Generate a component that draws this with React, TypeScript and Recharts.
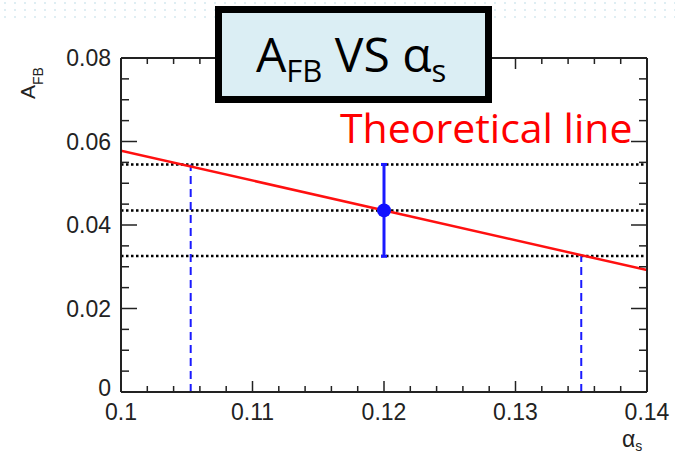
import { ComposedChart, Line, Scatter, ErrorBar, XAxis, YAxis, ReferenceLine } from "recharts";

// alpha_s axis
const xMajorTicks = [0.1, 0.11, 0.12, 0.13, 0.14];
const xMajorLabels = ["0.1", "0.11", "0.12", "0.13", "0.14"];
const xMinorTicks = [
  0.102, 0.104, 0.106, 0.108, 0.112, 0.114, 0.116, 0.118,
  0.122, 0.124, 0.126, 0.128, 0.132, 0.134, 0.136, 0.138,
];

// A_FB axis
const yMajorTicks = [0, 0.02, 0.04, 0.06, 0.08];
const yMajorLabels = ["0", "0.02", "0.04", "0.06", "0.08"];
const yMinorTicks = [0.005, 0.01, 0.015, 0.025, 0.03, 0.035, 0.045, 0.05, 0.055, 0.065, 0.07, 0.075];

// theoretical line end points
const theoryAlpha = [0.1, 0.14];
const theoryAfb = [0.0578, 0.0292];

// measured point
const measAlpha = [0.12];
const measAfb = [0.0435];
const measErr = [0.011];

// dotted levels (upper, central, lower)
const levelAfb = [0.0545, 0.0435, 0.0326];
// where the upper / lower levels cross the line
const crossAlpha = [0.1053, 0.135];
const crossAfb = [0.0545, 0.0326];

const theoryData = theoryAlpha.map((x, i) => ({ x, y: theoryAfb[i] }));
const measData = measAlpha.map((x, i) => ({ x, y: measAfb[i], err: measErr[i] }));

const xTicks = [...xMajorTicks, ...xMinorTicks].sort((a, b) => a - b);
const yTicks = [...yMajorTicks, ...yMinorTicks].sort((a, b) => a - b);

const majorIndex = (v: number, list: number[]) => list.findIndex((m) => Math.abs(m - v) < 1e-9);

const AXIS = "#222";
const TICK_FONT = "'Liberation Sans', Arial, sans-serif";

const BottomTick = (props: any) => {
  const { x, y, payload } = props;
  const i = majorIndex(payload.value, xMajorTicks);
  const len = i >= 0 ? 11 : 6;
  return (
    <g>
      <line x1={x} x2={x} y1={y} y2={y - len} stroke={AXIS} strokeWidth={1.5} />
      {i >= 0 && (
        <text x={x} y={y + 28} textAnchor="middle" fontSize={23} fill={AXIS} fontFamily={TICK_FONT}>
          {xMajorLabels[i]}
        </text>
      )}
    </g>
  );
};

const TopTick = (props: any) => {
  const { x, y, payload } = props;
  const i = majorIndex(payload.value, xMajorTicks);
  const len = i >= 0 ? 11 : 6;
  return <line x1={x} x2={x} y1={y} y2={y + len} stroke={AXIS} strokeWidth={1.5} />;
};

const LeftTick = (props: any) => {
  const { x, y, payload } = props;
  const i = majorIndex(payload.value, yMajorTicks);
  const len = i >= 0 ? 16 : 8;
  return (
    <g>
      <line x1={x} x2={x + len} y1={y} y2={y} stroke={AXIS} strokeWidth={1.5} />
      {i >= 0 && (
        <text
          x={x - 10}
          y={i === 0 ? y - 4 : y}
          dy="0.36em"
          textAnchor="end"
          fontSize={23}
          fill={AXIS}
          fontFamily={TICK_FONT}
        >
          {yMajorLabels[i]}
        </text>
      )}
    </g>
  );
};

const RightTick = (props: any) => {
  const { x, y, payload } = props;
  const i = majorIndex(payload.value, yMajorTicks);
  const len = i >= 0 ? 16 : 8;
  return <line x1={x} x2={x - len} y1={y} y2={y} stroke={AXIS} strokeWidth={1.5} />;
};

const Dot = (props: any) => <circle cx={props.cx} cy={props.cy} r={7} fill="#1010ff" />;

export default function App() {
  return (
    <div style={{ position: "absolute", left: 0, top: 0, width: 675, height: 453, background: "#fff" }}>
      <svg width={675} height={453} style={{ position: "absolute", left: 0, top: 0 }}>
        <defs>
          <pattern id="dots" width={10} height={7} patternUnits="userSpaceOnUse">
            <circle cx={5} cy={3} r={0.9} fill="#cfe6ee" />
          </pattern>
        </defs>
        <rect x={0} y={0} width={675} height={22} fill="url(#dots)" />
      </svg>

      <div style={{ position: "absolute", left: 0, top: 0 }}>
        <ComposedChart width={675} height={453} margin={{ top: 57, right: 27, bottom: 0, left: 0 }}>
          <XAxis
            dataKey="x"
            type="number"
            domain={[0.1, 0.14]}
            allowDataOverflow
            ticks={xTicks}
            interval={0}
            height={61}
            tickSize={0}
            tickMargin={0}
            tickLine={false}
            axisLine={{ stroke: AXIS, strokeWidth: 2 }}
            tick={(p: any) => <BottomTick {...p} />}
          />
          <XAxis
            xAxisId="top"
            orientation="top"
            dataKey="x"
            type="number"
            domain={[0.1, 0.14]}
            allowDataOverflow
            ticks={xTicks}
            interval={0}
            height={1}
            tickSize={0}
            tickMargin={0}
            tickLine={false}
            axisLine={{ stroke: AXIS, strokeWidth: 2 }}
            tick={(p: any) => <TopTick {...p} />}
          />
          <YAxis
            type="number"
            domain={[0, 0.08]}
            allowDataOverflow
            ticks={yTicks}
            interval={0}
            width={121}
            tickSize={0}
            tickMargin={0}
            tickLine={false}
            axisLine={{ stroke: AXIS, strokeWidth: 2 }}
            tick={(p: any) => <LeftTick {...p} />}
          />
          <YAxis
            yAxisId="right"
            orientation="right"
            type="number"
            domain={[0, 0.08]}
            allowDataOverflow
            ticks={yTicks}
            interval={0}
            width={1}
            tickSize={0}
            tickMargin={0}
            tickLine={false}
            axisLine={{ stroke: AXIS, strokeWidth: 2 }}
            tick={(p: any) => <RightTick {...p} />}
          />

          {levelAfb.map((v) => (
            <ReferenceLine key={v} y={v} stroke="#000" strokeWidth={2.5} strokeDasharray="2.5 2.5" />
          ))}
          {crossAlpha.map((a, i) => (
            <ReferenceLine
              key={a}
              segment={[
                { x: a, y: 0 },
                { x: a, y: crossAfb[i] },
              ]}
              stroke="#1a1aff"
              strokeWidth={2}
              strokeDasharray="8 5"
            />
          ))}

          <Line
            data={theoryData}
            dataKey="y"
            type="linear"
            stroke="#ff1010"
            strokeWidth={2.5}
            dot={false}
            activeDot={false}
            isAnimationActive={false}
          />
          <Scatter data={measData} dataKey="y" shape={Dot} isAnimationActive={false}>
            <ErrorBar dataKey="err" direction="y" width={3} stroke="#1a1aff" strokeWidth={3} isAnimationActive={false} />
          </Scatter>
        </ComposedChart>
      </div>

      <svg width={675} height={453} style={{ position: "absolute", left: 0, top: 0, pointerEvents: "none" }}>
        {/* title box */}
        <rect x={218.5} y={9.5} width={270} height={90} fill="#dbeef4" stroke="#000" strokeWidth={7} />
        <text x={256} y={72} fontSize={48} fontFamily="'Open Sans', 'Noto Sans', sans-serif" fill="#000">
          A
          <tspan fontSize={31} dy={10}>FB</tspan>
          <tspan fontSize={48} dy={-10}> VS α</tspan>
          <tspan fontSize={31} dy={10}>s</tspan>
        </text>

        <text x={340} y={143} fontSize={41} fontFamily="'Open Sans', 'Noto Sans', sans-serif" fill="#ff0000">
          Theoretical line
        </text>

        {/* axis titles */}
        <text transform="translate(35, 99) rotate(-90)" fontSize={21} fontFamily={TICK_FONT} fill={AXIS}>
          A
          <tspan fontSize={14} dy={8}>FB</tspan>
        </text>
        <text x={622} y={447} fontSize={23} fontFamily={TICK_FONT} fill={AXIS}>
          α
          <tspan fontSize={14} dy={4}>s</tspan>
        </text>
      </svg>
    </div>
  );
}
